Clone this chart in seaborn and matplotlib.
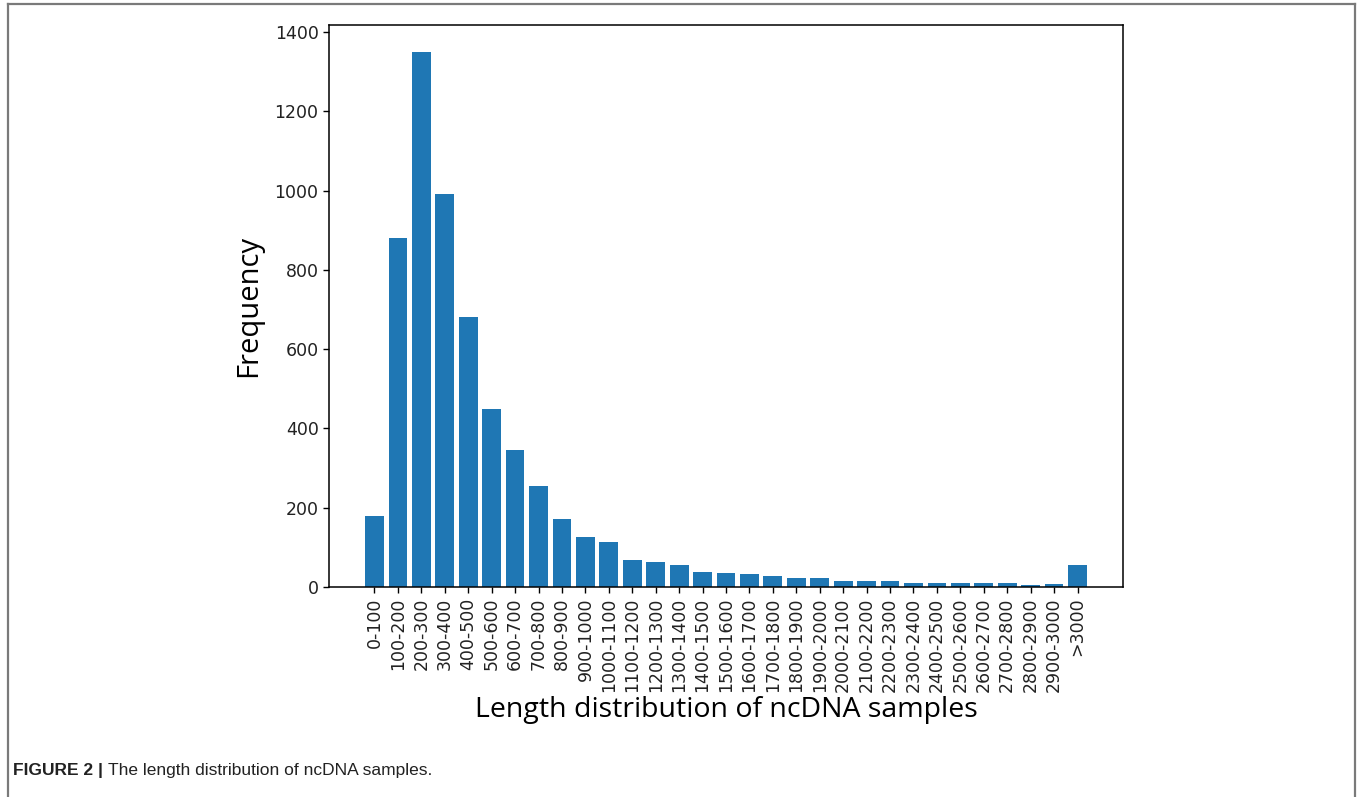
import matplotlib
matplotlib.use("Agg")
import matplotlib.pyplot as plt
from matplotlib.lines import Line2D
import seaborn as sns
import pandas as pd

# Length bins of the ncDNA samples and their counts
bins = ["0-100", "100-200", "200-300", "300-400", "400-500", "500-600",
        "600-700", "700-800", "800-900", "900-1000", "1000-1100",
        "1100-1200", "1200-1300", "1300-1400", "1400-1500", "1500-1600",
        "1600-1700", "1700-1800", "1800-1900", "1900-2000", "2000-2100",
        "2100-2200", "2200-2300", "2300-2400", "2400-2500", "2500-2600",
        "2600-2700", "2700-2800", "2800-2900", "2900-3000", ">3000"]
counts = [178, 880, 1350, 990, 680, 450, 345, 255, 171, 125, 113,
          67, 64, 55, 38, 35, 32, 29, 23, 23, 16,
          16, 16, 10, 10, 10, 10, 10, 4, 7, 55]

df = pd.DataFrame({"length": bins, "frequency": counts})

fig = plt.figure(figsize=(13.6, 7.97), dpi=100)
ax = fig.add_axes([329 / 1360, 1 - 587 / 797, (1123 - 329) / 1360, (587 - 25) / 797])

sns.barplot(data=df, x="length", y="frequency", order=bins, color="#1f77b4",
            saturation=1, width=0.8, linewidth=0, ax=ax)

n = len(bins)
span = (n - 1) + 0.8
ax.set_xlim(-0.4 - 0.05 * span, n - 1 + 0.4 + 0.05 * span)
ax.set_ylim(0, max(counts) * 1.05)
ax.set_yticks(range(0, 1401, 200))

ax.tick_params(axis="x", labelrotation=90, labelsize=12.5, length=4, width=1, direction="out")
ax.tick_params(axis="y", labelsize=12.5, length=4, width=1, direction="out")
for lbl in ax.get_xticklabels() + ax.get_yticklabels():
    lbl.set_family("DejaVu Sans")
    lbl.set_color("#222222")
for sp in ax.spines.values():
    sp.set_visible(True)
    sp.set_color("black")
    sp.set_linewidth(1.1)

ax.set_xlabel("Length distribution of ncDNA samples", fontsize=20.5,
              family="Open Sans", color="black", labelpad=3)
ax.set_ylabel("Frequency", fontsize=21, family="Open Sans", color="black", labelpad=8)

# Outer frame of the figure panel (open at the bottom)
frame_kw = dict(color="#7a7a7a", linewidth=1.6, transform=fig.transFigure)
fig.add_artist(Line2D([8 / 1360, 8 / 1360], [0, 1 - 4 / 797], **frame_kw))
fig.add_artist(Line2D([8 / 1360, 1355 / 1360], [1 - 4 / 797, 1 - 4 / 797], **frame_kw))
fig.add_artist(Line2D([1355 / 1360, 1355 / 1360], [0, 1 - 4 / 797], **frame_kw))

# Caption
cap_y = 1 - 770 / 797
t1 = fig.text(13 / 1360, cap_y, "FIGURE 2 | ", fontsize=12.5, fontweight="bold",
              family="Liberation Sans", color="#222222", va="center", ha="left")
fig.canvas.draw()
bb = t1.get_window_extent()
fig.text(bb.x1 / fig.bbox.width, cap_y, "The length distribution of ncDNA samples.",
         fontsize=12.5, family="Liberation Sans", color="#222222", va="center", ha="left")

fig.savefig("out.png", dpi=100, facecolor="white")
